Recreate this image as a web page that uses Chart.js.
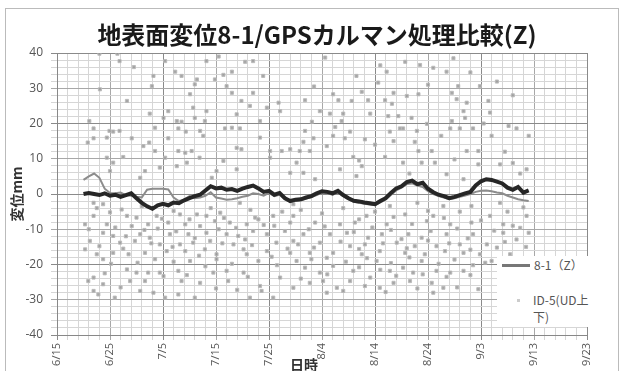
<!DOCTYPE html>
<html>
<head>
<meta charset="utf-8">
<script src="https://cdn.jsdelivr.net/npm/chart.js@4"></script>
<style>
  html, body { margin: 0; padding: 0; background: #fff; overflow: hidden; }
  #wrap { position: relative; width: 623px; height: 371px; }
  #frame { position: absolute; left: 5px; top: 8px; width: 612px; height: 400px; border: 1px solid #bbb; }
  #chart { position: absolute; left: 0; top: 0; }
  #title { position: absolute; left: 0; top: 20px; width: 634px; text-align: center;
           font: bold 24px/28px "Noto Sans CJK JP"; color: #1a1a1a; white-space: nowrap; }
  #xtitle { position: absolute; left: 290px; top: 354px; font: bold 14px "Noto Sans CJK JP"; color: #333; }
  #legend { position: absolute; left: 497px; top: 256px; width: 106px; height: 71px; background: #fff;
            font: 12px "Noto Sans CJK JP"; color: #555; }
  #legend .line { position: absolute; left: 5px; top: 8px; width: 28px; height: 2.5px; background: #777; }
  #legend .t1 { position: absolute; left: 37px; top: 0px; }
  #legend .dot { position: absolute; left: 20px; top: 43px; width: 3px; height: 3px; background: #ccc; }
  #legend .t2 { position: absolute; left: 36px; top: 35px; line-height: 17px; }
</style>
</head>
<body>
<div id="wrap">
  <div id="frame"></div>
  <canvas id="chart" width="623" height="371"></canvas>
  <div id="title">地表面変位8-1/GPSカルマン処理比較(Z)</div>
  <div id="xtitle">日時</div>
  <div id="legend">
    <div class="line"></div><div class="t1">8-1（Z）</div>
    <div class="dot"></div><div class="t2">ID-5(UD上<br>下)</div>
  </div>
</div>
<script>
// x = days since 6/15
const xTickLabels = ['6/15', '6/25', '7/5', '7/15', '7/25', '8/4', '8/14', '8/24', '9/3', '9/13', '9/23'];

const lineDays = [5, 6, 7, 8, 9, 10, 11, 12, 13, 14, 15, 16, 17, 18, 19, 20, 21, 22, 23, 24,
  25, 26, 27, 28, 29, 30, 31, 32, 33, 34, 35, 36, 37, 38, 39, 40, 41, 42, 43, 44,
  45, 46, 47, 48, 49, 50, 51, 52, 53, 54, 55, 56, 57, 58, 59, 60, 61, 62, 63, 64,
  65, 66, 67, 68, 69, 70, 71, 72, 73, 74, 75, 76, 77, 78, 79, 80, 81, 82, 83, 84,
  85, 86, 87, 88, 89];

// thick dark line (Kalman)
const kalmanVals = [0, 0.3, 0, -0.3, 0.2, -0.5, -0.2, -0.8, -0.3, 0.2,
  -1.2, -2.5, -3.5, -4.2, -3.2, -2.8, -3.2, -2.4, -2.6, -1.8,
  -1.2, -0.6, -0.2, 1.0, 2.2, 1.6, 1.8, 1.2, 1.4, 0.9,
  1.5, 2.0, 2.4, 1.6, 0.6, 0.9, -0.2, 0.3, -1.2, -2.0,
  -1.6, -1.5, -1.0, -0.6, 0.2, 0.8, 0.6, 0.2, 0.9, -0.3,
  -1.2, -1.9, -2.1, -2.4, -2.6, -2.9, -2.0, -1.2, 0.3, 1.6,
  2.2, 3.4, 3.8, 2.8, 3.2, 1.5, 0.5, -0.2, -0.6, -1.2,
  -0.8, -0.3, 0.2, 0.6, 2.4, 3.6, 4.2, 4.0, 3.5, 3.0,
  1.8, 1.2, 2.0, 0.4, 1.0];

// 8-1 (Z) gray line
const z81Vals = [4.0, 5.0, 5.8, 4.6, 1.5, 0.3, 0.2, 0.4, -0.3, -0.5,
  -0.8, -1.0, 1.2, 1.5, 1.5, 1.5, 1.3, -1.0, -2.0, -1.6,
  -0.6, -1.2, -1.0, -0.5, 0.5, -1.0, -1.3, -1.6, -1.5, -1.2,
  -0.8, -0.5, 0.2, 0.0, -0.5, 0.3, -0.6, -0.2, -1.5, -2.2,
  -2.0, -1.8, -1.3, -0.9, -0.3, 0.4, 0.2, -0.2, 0.4, -0.6,
  -1.5, -2.2, -2.5, -2.8, -3.0, -3.2, -2.4, -1.6, -0.3, 1.0,
  1.8, 2.8, 3.0, 2.4, 2.0, 0.8, 0.0, -0.6, -1.0, -1.5,
  -1.2, -0.8, -0.4, 0.0, 0.6, 0.9, 1.0, 0.8, 0.4, 0.2,
  -0.5, -1.0, -1.5, -1.8, -2.0];

// ID-5 (UD) scattered points
const id5Days = [
  8.0, 11.8, 11.4, 20.4, 28.2, 37.0, 22.3, 23.5, 18.2, 26.4, 31.4, 33.0, 29.8, 38.9, 17.9, 26.0, 32.0,
  8.1, 25.1, 33.0, 37.0, 13.2, 34.8, 36.4, 39.6, 41.8, 21.0, 17.5, 25.7, 28.2, 42.1, 33.9, 20.1, 26.0,
  38.3, 6.1, 22.6, 23.5, 27.9, 6.9, 9.9, 10.6, 11.8, 18.5, 22.9, 24.3, 27.0, 31.7, 33.0, 34.5, 38.3,
  6.9, 9.4, 14.1, 21.0, 17.4, 27.6, 5.8, 16.3, 18.5, 22.9, 24.2, 25.4, 33.9, 34.8, 40.2, 42.4, 44.0,
  12.5, 9.4, 20.4, 26.9, 10.6, 24.5, 31.4, 40.2, 19.4, 22.6, 10.0, 16.6, 30.1, 33.9, 44.0, 15.7, 29.2,
  50.6, 65.7, 68.5, 71.0, 74.8, 73.5, 56.5, 62.2, 83.0, 60.6, 75.7, 79.8, 52.1, 63.5, 66.0, 68.2, 74.5,
  46.8, 53.1, 55.6, 58.7, 61.9, 63.2, 75.4, 77.3, 81.4, 49.6, 51.5, 54.0, 59.1, 62.5, 64.4, 66.9, 76.7,
  77.0, 81.7, 48.1, 53.7, 69.8, 74.5, 46.8, 55.3, 62.8, 64.7, 65.3, 67.9, 74.2, 76.0, 78.5, 85.2, 86.7,
  46.5, 48.4, 52.1, 54.3, 58.1, 63.5, 67.5, 82.0, 89.0, 45.8, 47.7, 50.9, 55.9, 61.9, 68.2, 70.7, 77.3,
  79.5, 45.2, 53.4, 57.5, 65.3, 68.8, 71.3, 79.5, 83.6, 88.6, 46.5, 48.7, 56.5, 73.5, 76.7, 87.4,
  6.9, 8.7, 12.2, 6.9, 13.2, 15.0, 18.8, 23.2, 26.4, 28.2, 30.8, 34.5, 37.4, 40.8, 44.6,
  5.3, 9.4, 14.1, 17.2, 21.0, 24.2, 27.0, 29.8, 32.6, 35.8, 38.0, 44.0, 8.7, 10.6, 15.7, 17.5,
  21.3, 24.8, 28.2, 32.0, 34.2, 39.6, 43.0, 6.2, 11.9, 14.7, 19.4, 23.2, 25.7, 28.9, 33.3, 35.5,
  41.4, 44.6, 5.3, 7.5, 10.6, 13.5, 16.6, 20.7, 24.2, 27.9, 30.1, 35.2, 35.8, 39.6, 44.0,
  8.7, 18.5, 25.1, 30.1, 38.0, 13.2, 15.0, 17.2, 19.4, 22.9, 29.5, 32.0, 35.2, 20.1, 6.9, 42.1,
  5.9, 8.7, 13.8, 16.6, 23.5, 27.0, 32.3, 38.3, 6.9, 15.7, 18.2, 7.8, 10.9, 20.4, 22.9, 26.0,
  36.4, 38.6, 40.8,
  62.8, 68.0, 72.9, 78.2, 83.6, 44.6, 48.7, 53.4, 56.2, 58.4, 62.2, 65.7, 69.8, 71.0, 74.2, 78.2,
  81.7, 84.2, 88.6, 87.4, 46.5, 51.5, 54.7, 58.7, 61.3, 66.3, 68.8, 73.5, 78.5, 84.2, 86.7,
  45.5, 49.6, 55.3, 58.1, 64.1, 67.5, 71.6, 76.0, 81.1, 83.0, 47.7, 52.1, 57.5, 60.9, 65.7, 69.4,
  73.2, 76.7, 79.8, 85.5, 45.2, 50.9, 60.3, 68.8, 80.8, 82.0, 46.8, 49.6, 52.1, 55.9, 59.1, 62.8,
  65.3, 67.2, 71.6, 74.2, 76.7, 44.6, 47.7, 50.2, 52.8, 55.3, 58.1, 63.5, 66.6, 70.7, 72.9,
  50.9, 60.9, 71.0, 79.5
];
const id5Vals = [
  39.8, 37.7, 39.8, 37.7, 37.7, 37.7, 34.7, 33.5, 33.5, 32.5, 33.8, 34.7, 32.5, 33.5, 30.6, 31.1, 30.6,
  29.7, 28.3, 28.7, 28.7, 26.4, 26.4, 25.0, 24.5, 25.9, 23.5, 22.8, 24.5, 23.5, 23.5, 22.6, 21.6, 21.6,
  20.7, 20.7, 20.7, 20.5, 20.7, 18.6, 17.9, 17.7, 17.9, 18.8, 18.6, 17.7, 17.9, 18.6, 18.8, 18.6, 16.0,
  15.8, 16.0, 15.8, 15.8, 14.6, 16.5, 14.6, 13.6, 12.2, 12.2, 11.7, 12.2, 13.1, 12.7, 12.2, 12.2, 12.7,
  10.5, 10.3, 10.3, 10.3, 8.9, 8.9, 9.4, 10.3, 7.5, 7.9, 6.5, 6.5, 6.5, 7.0, 6.0, 4.6, 4.6,
  38.7, 37.5, 36.6, 35.8, 38.5, 34.7, 33.5, 34.7, 31.9, 31.6, 30.6, 30.6, 28.3, 28.7, 27.8, 28.3, 28.7,
  26.6, 26.6, 26.4, 26.6, 26.6, 25.6, 26.9, 25.9, 26.4, 23.5, 22.8, 22.8, 22.8, 22.1, 22.1, 21.6, 23.5,
  21.6, 23.1, 20.5, 20.7, 19.9, 20.7, 17.9, 17.7, 17.7, 18.6, 18.6, 17.9, 18.6, 18.6, 18.6, 19.3, 18.6,
  14.8, 15.8, 16.5, 15.8, 15.5, 15.0, 14.8, 16.5, 16.5, 12.2, 12.2, 13.6, 10.5, 10.5, 12.2, 12.2, 12.2,
  12.2, 8.9, 7.0, 7.9, 8.9, 8.9, 8.9, 8.4, 8.4, 7.0, 6.0, 4.2, 5.1, 5.6, 4.2, 5.8,
  -2.5, -2.9, -4.4, -6.2, -6.2, -6.7, -6.2, -5.8, -5.8, -6.2, -5.3, -2.5, -6.7, -6.2, -2.9,
  -8.6, -8.6, -9.1, -8.6, -8.1, -8.6, -9.1, -7.7, -8.1, -8.6, -7.2, -8.1, -11.0, -11.9, -11.4, -12.4,
  -11.4, -11.4, -11.0, -11.4, -11.9, -11.4, -10.5, -13.3, -13.8, -13.3, -14.3, -14.3, -13.8, -13.3, -14.3, -12.9,
  -13.8, -13.3, -15.7, -17.1, -16.7, -17.1, -16.7, -16.2, -16.2, -15.7, -17.1, -15.7, -17.1, -16.2, -16.7,
  -18.5, -18.5, -19.0, -18.5, -19.0, -21.4, -22.3, -22.3, -22.3, -21.8, -22.3, -21.8, -22.3, -23.3, -23.7, -23.7,
  -24.7, -25.6, -24.7, -24.7, -24.7, -25.2, -24.7, -26.1, -27.5, -27.5, -28.0, -28.5, -29.4, -29.4, -28.5, -29.4,
  -29.4, -27.5, -29.4,
  -3.4, -2.5, -3.4, -3.4, -2.5, -6.2, -8.1, -8.6, -8.1, -6.2, -8.6, -5.8, -7.7, -6.2, -8.6, -8.1,
  -6.2, -8.6, -6.2, -9.6, -11.4, -11.4, -11.0, -12.4, -11.4, -11.4, -12.4, -11.4, -11.4, -11.0, -12.9,
  -14.3, -13.8, -14.8, -14.3, -13.8, -14.8, -14.8, -14.3, -14.3, -15.2, -16.7, -16.7, -17.1, -16.2, -16.7, -17.1,
  -16.2, -16.7, -17.1, -17.1, -19.0, -18.1, -19.0, -19.0, -19.5, -19.0, -20.9, -22.3, -20.4, -21.8, -23.7, -21.8,
  -20.9, -22.3, -21.8, -22.3, -21.8, -26.6, -25.2, -24.7, -26.6, -24.7, -26.1, -25.2, -24.7, -25.2, -26.6,
  -28.0, -26.6, -28.0, -27.0
];

// more ID-5 points in the dense bands
const id5DaysB = [
  7.5, 10.0, 16.0, 19.8, 22.0, 25.0, 29.0, 31.5, 36.5, 39.0, 42.5,
  6.0, 11.0, 13.0, 16.5, 19.0, 22.5, 26.0, 30.5, 33.8, 37.0, 41.0,
  8.0, 12.5, 17.8, 21.8, 26.8, 31.2, 36.8, 40.5, 43.5,
  10.2, 15.2, 22.0, 28.0, 33.0, 41.5,
  9.0, 24.5, 36.0, 12.0, 30.0, 34.0,
  46.0, 50.0, 54.0, 57.0, 60.0, 63.5, 67.0, 70.0, 73.0, 76.0, 80.0, 85.0, 88.0,
  47.5, 50.5, 56.0, 59.5, 63.0, 65.0, 70.5, 75.5, 77.5, 82.5, 86.0, 89.0,
  48.5, 53.5, 57.0, 61.5, 66.0, 70.0, 74.0, 78.0, 84.5, 88.5,
  48.0, 54.5, 58.5, 63.0, 66.5, 72.0, 75.0, 78.5,
  51.0, 57.0, 61.0, 64.0, 69.0, 73.5, 78.0,
  46.0, 54.0, 62.0, 68.0, 75.5,
  14.5, 30.5, 35.5, 48.5, 57.5, 61.0, 70.0, 78.0, 86.0, 52.5, 60.0, 72.5, 80.5, 84.5, 57.0, 66.5, 75.0, 86.0
];
const id5ValsB = [
  -4.0, -5.2, -3.5, -7.0, -4.8, -7.2, -4.0, -6.8, -4.5, -8.8, -5.0,
  -10.0, -9.5, -12.0, -10.2, -9.8, -10.6, -12.5, -10.0, -9.6, -10.5, -9.0,
  -14.8, -15.5, -14.0, -15.0, -17.5, -14.0, -14.5, -17.8, -15.5,
  -19.8, -19.5, -19.2, -20.5, -19.8, -20.2,
  -22.5, -23.0, -23.5, -26.5, -26.8, -27.2,
  -4.5, -5.5, -4.0, -7.2, -5.0, -6.5, -8.5, -4.8, -6.8, -5.0, -7.5, -5.0, -3.8,
  -10.0, -9.2, -10.8, -9.5, -10.2, -12.8, -10.5, -9.8, -12.6, -10.4, -9.0, -11.0,
  -15.2, -13.5, -15.6, -14.0, -15.4, -13.2, -14.0, -15.8, -13.6, -15.0,
  -18.5, -19.2, -18.2, -19.6, -18.0, -19.8, -18.6, -20.2,
  -22.8, -20.8, -21.5, -23.2, -22.8, -23.5, -23.0,
  -24.0, -27.5, -27.8, -26.8, -26.5,
  36.0, 39.0, 37.5, 30.5, 29.0, 36.5, 31.0, 34.5, 28.0, 19.0, 14.0, 16.5, 20.0, 12.0, 9.5, 5.8, 9.8, 8.8
];

const toPoints = (xs, ys) => xs.map((x, i) => ({ x: x, y: ys[i] }));

const gridColor = ctx => {
    const v = ctx.tick ? ctx.tick.value : 0;
    if (v % 20 === 0) return '#8a8a8a';
    if (v % 10 === 0) return '#a8a8a8';
    return '#d6d6d6';
};

new Chart(document.getElementById('chart'), {
    type: 'scatter',
    data: {
        datasets: [
            {
                label: 'Kalman',
                data: toPoints(lineDays, kalmanVals),
                showLine: true,
                borderColor: '#262626',
                borderWidth: 4,
                pointRadius: 0,
                tension: 0
            },
            {
                label: '8-1（Z）',
                data: toPoints(lineDays, z81Vals),
                showLine: true,
                borderColor: '#8c8c8c',
                borderWidth: 2,
                pointRadius: 0,
                tension: 0
            },
            {
                label: 'ID-5(UD上下)',
                data: toPoints(id5Days.concat(id5DaysB), id5Vals.concat(id5ValsB)),
                pointStyle: 'rect',
                pointRadius: 2.2,
                backgroundColor: 'rgba(150,150,150,0.85)',
                borderColor: 'rgba(185,185,185,0.9)',
                borderWidth: 1
            }
        ]
    },
    options: {
        responsive: false,
        animation: false,
        devicePixelRatio: 1,
        layout: { padding: { left: 0, right: 36, top: 53, bottom: 0 } },
        plugins: {
            legend: { display: false },
            tooltip: { enabled: false },
            title: { display: false }
        },
        scales: {
            x: {
                type: 'linear',
                min: 0,
                max: 100,
                afterFit: scale => { scale.height = 36; },
                ticks: {
                    stepSize: 2,
                    autoSkip: false,
                    minRotation: 90,
                    maxRotation: 90,
                    padding: 3,
                    color: '#555',
                    font: { family: '"Open Sans"', size: 11 },
                    callback: v => (v % 10 === 0 ? xTickLabels[v / 10] : '')
                },
                grid: { color: gridColor, tickLength: 5 },
                border: { color: '#888' }
            },
            y: {
                min: -40,
                max: 40,
                afterFit: scale => { scale.width = 57; },
                ticks: {
                    stepSize: 2,
                    autoSkip: false,
                    padding: 8,
                    color: '#555',
                    font: { family: '"Open Sans"', size: 12 },
                    callback: v => (v % 10 === 0 ? String(v) : '')
                },
                grid: { color: gridColor, tickLength: 6 },
                border: { color: '#888' },
                title: {
                    display: true,
                    text: '変位mm',
                    color: '#333',
                    font: { family: '"Noto Sans CJK JP"', size: 14, weight: 'bold' },
                    padding: { top: 8, bottom: 0 }
                }
            }
        }
    }
});
</script>
</body>
</html>
